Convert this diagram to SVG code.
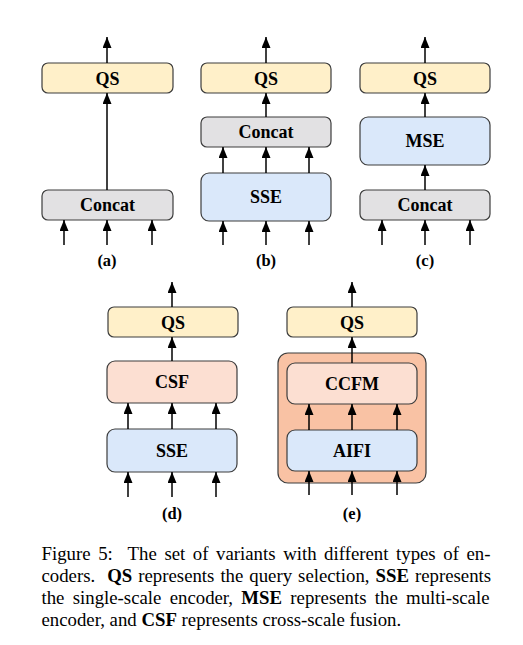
<svg xmlns="http://www.w3.org/2000/svg" width="523" height="645" viewBox="0 0 523 645">
<defs>
<marker id="ah" markerUnits="userSpaceOnUse" markerWidth="11" markerHeight="9" viewBox="0 0 11 9" refX="11" refY="4.5" orient="auto">
<path d="M0,0 L11,4.5 L0,9 Z" fill="#000"/>
</marker>
</defs>
<style>
.box{stroke:#3d3d3d;stroke-width:1.2}
.qs{fill:#fff0c9}
.cc{fill:#e2e1e3}
.bl{fill:#dae8fa}
.pe{fill:#fcdfd2}
.or{fill:#f9c2a4}
text{font-family:'Liberation Serif','Times New Roman','DejaVu Serif',serif}
.lb{font-weight:bold;font-size:18px;text-anchor:middle;fill:#000}
.sl{font-weight:bold;font-size:16.5px;text-anchor:middle;fill:#000}
.cap{font-size:18.8px;fill:#000}
.ar{stroke:#000;stroke-width:1.5;fill:none}
</style>
<rect width="523" height="645" fill="#fff"/>

<g id="a-qs"><rect class="box qs" x="42" y="63" width="131" height="30" rx="6"/><text class="lb" x="107.5" y="84.5">QS</text></g>
<g id="a-concat"><rect class="box cc" x="42" y="190" width="131" height="30" rx="6"/><text class="lb" x="107.5" y="211">Concat</text></g>
<g id="a-label"><text class="sl" x="107" y="266">(a)</text></g>

<g id="b-qs"><rect class="box qs" x="201" y="63" width="130" height="30" rx="6"/><text class="lb" x="266" y="84.5">QS</text></g>
<g id="b-concat"><rect class="box cc" x="201" y="117" width="130" height="30" rx="6"/><text class="lb" x="266" y="138">Concat</text></g>
<g id="b-sse"><rect class="box bl" x="201" y="173" width="130" height="48" rx="8"/><text class="lb" x="266" y="203">SSE</text></g>
<g id="b-label"><text class="sl" x="266" y="266">(b)</text></g>

<g id="c-qs"><rect class="box qs" x="360" y="63" width="130" height="30" rx="6"/><text class="lb" x="425" y="84.5">QS</text></g>
<g id="c-mse"><rect class="box bl" x="360" y="117" width="130" height="48" rx="8"/><text class="lb" x="425" y="147">MSE</text></g>
<g id="c-concat"><rect class="box cc" x="360" y="190" width="130" height="30" rx="6"/><text class="lb" x="425" y="211">Concat</text></g>
<g id="c-label"><text class="sl" x="425" y="266">(c)</text></g>

<g id="d-qs"><rect class="box qs" x="108" y="307" width="130" height="30" rx="6"/><text class="lb" x="173" y="328.5">QS</text></g>
<g id="d-csf"><rect class="box pe" x="107" y="361" width="130" height="42" rx="8"/><text class="lb" x="172" y="388">CSF</text></g>
<g id="d-sse"><rect class="box bl" x="107" y="429" width="130" height="43" rx="8"/><text class="lb" x="172" y="456.5">SSE</text></g>
<g id="d-label"><text class="sl" x="172" y="519">(d)</text></g>

<g id="e-qs"><rect class="box qs" x="287" y="307" width="130" height="30" rx="6"/><text class="lb" x="352" y="328.5">QS</text></g>
<g id="e-encoder"><rect class="box or" x="278" y="353" width="148" height="130" rx="10"/></g>
<g id="e-ccfm"><rect class="box pe" x="287" y="363" width="130" height="41" rx="8"/><text class="lb" x="352" y="389.5">CCFM</text></g>
<g id="e-aifi"><rect class="box bl" x="287" y="430" width="130" height="41" rx="8"/><text class="lb" x="352" y="456.5">AIFI</text></g>
<g id="e-label"><text class="sl" x="352" y="519">(e)</text></g>

<g id="connectors" class="ar" marker-end="url(#ah)">
<line x1="107" y1="63" x2="107" y2="37"/>
<line x1="107" y1="190" x2="107" y2="93"/>
<line x1="64" y1="245" x2="64" y2="220"/>
<line x1="107" y1="245" x2="107" y2="220"/>
<line x1="152" y1="245" x2="152" y2="220"/>

<line x1="266" y1="63" x2="266" y2="37"/>
<line x1="266" y1="117" x2="266" y2="93"/>
<line x1="223" y1="173" x2="223" y2="147"/>
<line x1="266" y1="173" x2="266" y2="147"/>
<line x1="309" y1="173" x2="309" y2="147"/>
<line x1="223" y1="245" x2="223" y2="221"/>
<line x1="266" y1="245" x2="266" y2="221"/>
<line x1="309" y1="245" x2="309" y2="221"/>

<line x1="425" y1="63" x2="425" y2="37"/>
<line x1="425" y1="117" x2="425" y2="93"/>
<line x1="425" y1="190" x2="425" y2="165"/>
<line x1="382" y1="245" x2="382" y2="220"/>
<line x1="425" y1="245" x2="425" y2="220"/>
<line x1="470" y1="245" x2="470" y2="220"/>

<line x1="172" y1="307" x2="172" y2="282"/>
<line x1="172" y1="361" x2="172" y2="337"/>
<line x1="128" y1="429" x2="128" y2="403"/>
<line x1="172" y1="429" x2="172" y2="403"/>
<line x1="216" y1="429" x2="216" y2="403"/>
<line x1="128" y1="497" x2="128" y2="472"/>
<line x1="172" y1="497" x2="172" y2="472"/>
<line x1="216" y1="497" x2="216" y2="472"/>

<line x1="352" y1="307" x2="352" y2="282"/>
<line x1="352" y1="363" x2="352" y2="337"/>
<line x1="309" y1="430" x2="309" y2="404"/>
<line x1="352" y1="430" x2="352" y2="404"/>
<line x1="397" y1="430" x2="397" y2="404"/>
<line x1="309" y1="495" x2="309" y2="471"/>
<line x1="352" y1="495" x2="352" y2="471"/>
<line x1="397" y1="495" x2="397" y2="471"/>
</g>

<g id="caption" class="cap">
<text x="41.5" y="560" word-spacing="2.9" xml:space="preserve">Figure 5:  The set of variants with different types of en-</text>
<text x="41.5" y="582" word-spacing="1.3" xml:space="preserve">coders.  <tspan font-weight="bold">QS</tspan> represents the query selection, <tspan font-weight="bold">SSE</tspan> represents</text>
<text x="41.5" y="604" word-spacing="3.6">the single-scale encoder, <tspan font-weight="bold">MSE</tspan> represents the multi-scale</text>
<text x="41.5" y="626">encoder, and <tspan font-weight="bold">CSF</tspan> represents cross-scale fusion.</text>
</g>
</svg>
